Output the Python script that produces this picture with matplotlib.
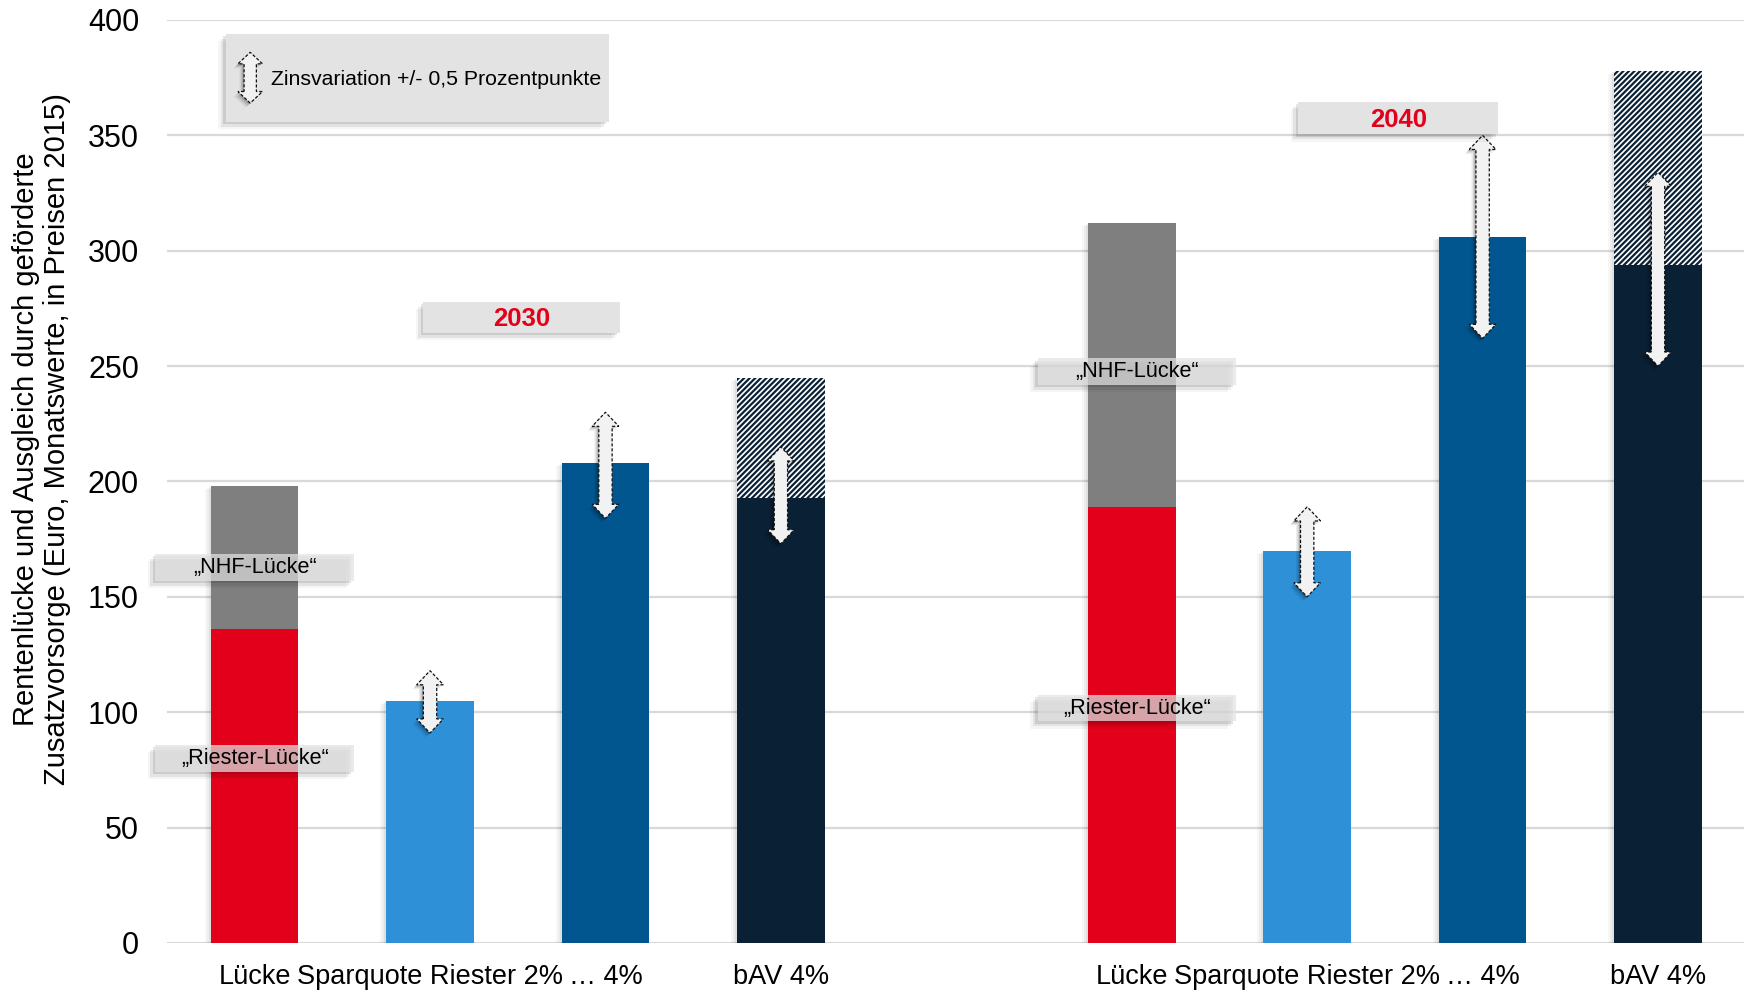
import matplotlib
matplotlib.use("Agg")
import matplotlib.pyplot as plt
import matplotlib.transforms as mtransforms
from matplotlib.patches import Polygon, Rectangle
import numpy as np

plt.rcParams["font.family"] = ["Liberation Sans", "DejaVu Sans"]
plt.rcParams["hatch.linewidth"] = 1.6

# ---- data -------------------------------------------------------------
years = ["2030", "2040"]
categories = ["Lücke", "Sparquote Riester 2%", "… 4%", "bAV 4%"]

riester_gap = [136, 189]          # "Riester-Lücke" (red)
nhf_gap_total = [198, 312]        # "NHF-Lücke" incl. Riester gap (grey top)
riester_2pct = [105, 170]
riester_4pct = [208, 306]
bav_4pct = [193, 294]
bav_4pct_upper = [245, 378]       # hatched extension

# interest-rate variation (+/- 0.5 percentage points): low / high
var_riester_2_low = [91, 150]
var_riester_2_high = [118, 189]
var_riester_4_low = [184, 262]
var_riester_4_high = [230, 350]
var_bav_low = [173, 250]
var_bav_high = [215, 334]

# ---- colours ------------------------------------------------------------
c_red = "#e2001a"
c_grey = "#7f7f7f"
c_light = "#2e91d8"
c_mid = "#02568f"
c_dark = "#0a2035"
c_grid = "#d9d9d9"

fig = plt.figure(figsize=(17.44, 9.9), dpi=100)
ax = fig.add_axes([0.0957, 0.0475, 1 - 0.0957, 0.9798 - 0.0475])

group_pos = [np.arange(4), np.arange(4) + 5]
width = 0.5

for ax_side in ["top", "right", "left", "bottom"]:
    ax.spines[ax_side].set_visible(False)
ax.set_ylim(0, 400)
ax.set_xlim(-0.5, 8.49)
ax.set_yticks(np.arange(0, 401, 50))
ax.yaxis.grid(True, color=c_grid, linewidth=1.6, zorder=0)
ax.set_axisbelow(True)
ax.tick_params(axis="y", length=0, pad=20, labelsize=22)
ax.tick_params(axis="x", length=0, pad=15, labelsize=19.5)

def shadow_tr(dx, dy):
    return ax.transData + mtransforms.ScaledTranslation(dx / 100, dy / 100, fig.dpi_scale_trans)

for g in range(2):
    x = group_pos[g]
    # faint left-side shadows of the bars
    tops = [nhf_gap_total[g], riester_2pct[g], riester_4pct[g], bav_4pct_upper[g]]
    for xi, t in zip(x, tops):
        for k, a in enumerate([0.05, 0.04, 0.03]):
            ax.add_patch(Rectangle((xi - width / 2, 0), width, t, facecolor="black",
                                   alpha=a, edgecolor="none", zorder=1,
                                   transform=shadow_tr(-2 * (k + 1), -1 * (k + 1))))
    ax.bar(x[0], riester_gap[g], width, color=c_red, zorder=2)
    ax.bar(x[0], nhf_gap_total[g] - riester_gap[g], width, bottom=riester_gap[g],
           color=c_grey, zorder=2)
    ax.bar(x[1], riester_2pct[g], width, color=c_light, zorder=2)
    ax.bar(x[2], riester_4pct[g], width, color=c_mid, zorder=2)
    ax.bar(x[3], bav_4pct[g], width, color=c_dark, zorder=2)
    ax.bar(x[3], bav_4pct_upper[g] - bav_4pct[g], width, bottom=bav_4pct[g],
           facecolor="white", edgecolor=c_dark, hatch="//////", linewidth=0, zorder=2)

ax.set_xticks(np.concatenate(group_pos))
ax.set_xticklabels(categories * 2)


def double_arrow(xc, lo, hi, hw_s=0.038, hw_h=0.076, hl=6.1, z=6):
    verts = [(xc - hw_s, lo + hl), (xc - hw_h, lo + hl), (xc, lo), (xc + hw_h, lo + hl),
             (xc + hw_s, lo + hl), (xc + hw_s, hi - hl), (xc + hw_h, hi - hl), (xc, hi),
             (xc - hw_h, hi - hl), (xc - hw_s, hi - hl)]
    for k, a in enumerate([0.18, 0.12, 0.07]):
        ax.add_patch(Polygon(verts, closed=True, facecolor="black", edgecolor="none",
                             alpha=a, zorder=z, clip_on=False,
                             transform=shadow_tr(-1.5 * (k + 1), -1.5 * (k + 1))))
    ax.add_patch(Polygon(verts, closed=True, facecolor="#f2f2f2", edgecolor="#111111",
                         linewidth=0.9, linestyle=(0, (2.5, 1.5)), zorder=z + 1,
                         clip_on=False))


for g in range(2):
    x = group_pos[g]
    double_arrow(x[1], var_riester_2_low[g], var_riester_2_high[g])
    double_arrow(x[2], var_riester_4_low[g], var_riester_4_high[g])
    double_arrow(x[3], var_bav_low[g], var_bav_high[g])


def label_box(x0, x1, y0, y1, alpha=1.0, z=8):
    for k, a in enumerate([0.10, 0.07, 0.04]):
        ax.add_patch(Rectangle((x0, y0), x1 - x0, y1 - y0, facecolor="black", alpha=a,
                               edgecolor="none", zorder=z, clip_on=False,
                               transform=shadow_tr(-2.5 * (k + 1), -2.5 * (k + 1))))
    ax.add_patch(Rectangle((x0, y0), x1 - x0, y1 - y0, facecolor="#e3e3e3",
                           alpha=alpha, edgecolor="none", zorder=z + 1, clip_on=False))


# legend box
label_box(-0.165, 2.02, 356, 394)
double_arrow(-0.025, 364, 386, hw_s=0.035, hw_h=0.07, hl=5.0, z=11)
ax.text(0.095, 374, "Zinsvariation +/- 0,5 Prozentpunkte", fontsize=15.3,
        ha="left", va="center", zorder=12)

# year boxes
label_box(0.96, 2.08, 264.5, 278)
ax.text(1.52, 270.3, years[0], fontsize=18.5, fontweight="bold", color=c_red,
        ha="center", va="center", zorder=12)
label_box(5.95, 7.09, 350.5, 364.5)
ax.text(6.52, 356.5, years[1], fontsize=18.5, fontweight="bold", color=c_red,
        ha="center", va="center", zorder=12)

# gap labels
gap_boxes = [(-0.565, 0.565, 157, 168.7, 162.6, "\u201eNHF-L\u00fccke\u201c"),
             (-0.565, 0.565, 74.2, 85.8, 79.8, "\u201eRiester-L\u00fccke\u201c"),
             (4.463, 5.594, 242, 253.5, 247.6, "\u201eNHF-L\u00fccke\u201c"),
             (4.463, 5.594, 96, 107.5, 101.6, "\u201eRiester-L\u00fccke\u201c")]
for x0, x1, y0, y1, yt, txt in gap_boxes:
    label_box(x0, x1, y0, y1, alpha=0.72)
    ax.text((x0 + x1) / 2, yt, txt, fontsize=15.6, ha="center", va="center", zorder=12)

fig.text(0.0239, 0.5566,
         "Rentenlücke und Ausgleich durch geförderte\n"
         "Zusatzvorsorge (Euro, Monatswerte, in Preisen 2015)",
         rotation=90, fontsize=21, ha="center", va="center",
         multialignment="center", linespacing=1.15)

fig.savefig("out.png", dpi=100)
